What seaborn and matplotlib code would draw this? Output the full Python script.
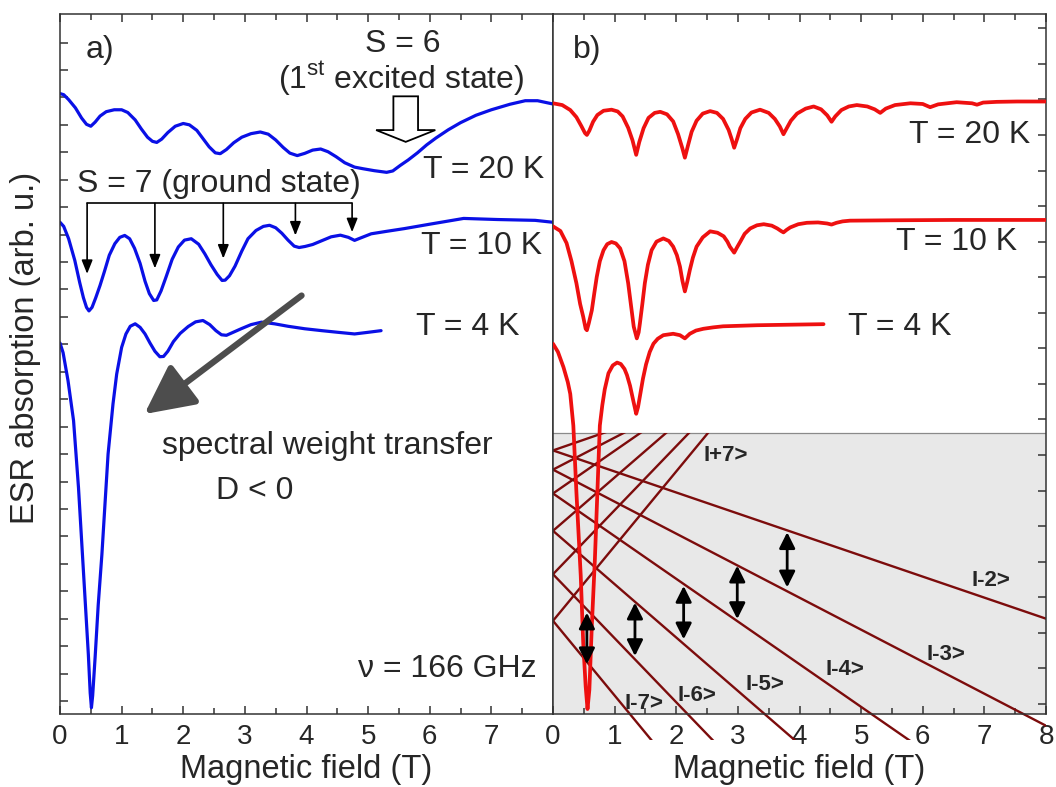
import matplotlib
matplotlib.use("Agg")
import numpy as np
import pandas as pd
import seaborn as sns
import matplotlib.pyplot as plt
from matplotlib.patches import Rectangle, FancyArrow
from matplotlib.ticker import MultipleLocator

# ---------------- data ----------------
# panel a) measured spectra, x = field (T), y = offset absorption (arb. u.)
field_a20 = [0.00, 0.06, 0.14, 0.25, 0.35, 0.43, 0.50, 0.57, 0.65, 0.75, 0.88, 1.00, 1.10,
             1.22, 1.32, 1.42, 1.50, 1.57, 1.65, 1.75, 1.87, 2.00, 2.10, 2.22, 2.32, 2.42,
             2.52, 2.60, 2.70, 2.82, 2.95, 3.10, 3.25, 3.38, 3.50, 3.62, 3.73, 3.85, 3.97,
             4.10, 4.23, 4.35, 4.48, 4.62, 4.78, 4.92, 5.10, 5.30, 5.40, 5.52, 5.65, 5.80,
             5.95, 6.10, 6.30, 6.50, 6.75, 7.00, 7.30, 7.55, 7.75, 8.00]
esr_a20 = [22.14, 22.10, 21.92, 21.62, 21.25, 21.02, 20.95, 21.10, 21.32, 21.48, 21.55, 21.55,
           21.45, 21.18, 20.85, 20.55, 20.40, 20.36, 20.48, 20.72, 20.95, 21.05, 21.00, 20.80,
           20.50, 20.20, 19.98, 19.95, 20.10, 20.35, 20.55, 20.68, 20.74, 20.66, 20.45, 20.18,
           19.97, 19.88, 19.96, 20.08, 20.12, 20.02, 19.84, 19.62, 19.46, 19.40, 19.33, 19.27,
           19.32, 19.52, 19.72, 19.98, 20.27, 20.52, 20.82, 21.08, 21.35, 21.55, 21.75, 21.88,
           21.88, 21.76]

field_a10 = [0.00, 0.06, 0.14, 0.24, 0.32, 0.38, 0.43, 0.47, 0.52, 0.58, 0.65, 0.72, 0.80,
             0.89, 0.97, 1.05, 1.13, 1.21, 1.30, 1.38, 1.45, 1.52, 1.57, 1.64, 1.72, 1.82,
             1.92, 2.02, 2.13, 2.25, 2.35, 2.45, 2.55, 2.63, 2.68, 2.75, 2.84, 2.95, 3.05,
             3.18, 3.30, 3.40, 3.50, 3.60, 3.70, 3.80, 3.88, 3.98, 4.10, 4.25, 4.40, 4.55,
             4.68, 4.78, 4.88, 5.05, 5.30, 5.59, 6.00, 6.55, 7.10, 7.71, 8.00]
esr_a10 = [17.45, 17.30, 16.85, 16.06, 15.25, 14.70, 14.35, 14.22, 14.35, 14.70, 15.15, 15.65,
           16.25, 16.67, 16.90, 16.97, 16.85, 16.50, 15.95, 15.30, 14.85, 14.60, 14.62, 14.95,
           15.45, 16.10, 16.55, 16.80, 16.85, 16.65, 16.30, 15.90, 15.55, 15.33, 15.34, 15.50,
           15.85, 16.40, 16.85, 17.15, 17.30, 17.34, 17.25, 17.05, 16.80, 16.58, 16.53, 16.57,
           16.64, 16.78, 16.92, 16.98, 16.90, 16.79, 16.88, 17.03, 17.12, 17.22, 17.38, 17.59,
           17.55, 17.52, 17.45]

field_a4 = [0.00, 0.05, 0.13, 0.22, 0.30, 0.38, 0.46, 0.49, 0.51, 0.53, 0.57, 0.62, 0.68,
            0.73, 0.78, 0.86, 0.92, 1.00, 1.07, 1.14, 1.22, 1.30, 1.38, 1.46, 1.54, 1.62,
            1.68, 1.75, 1.84, 1.95, 2.08, 2.20, 2.32, 2.43, 2.53, 2.62, 2.70, 2.80, 2.94,
            3.10, 3.27, 3.48, 3.70, 3.97, 4.25, 4.51, 4.78, 5.00, 5.21]
esr_a4 = [13.05, 12.70, 11.68, 10.22, 7.78, 4.74, 1.70, 0.30, -0.24, 0.20, 1.60, 3.50, 5.35,
          7.18, 9.00, 10.83, 11.92, 12.89, 13.38, 13.66, 13.75, 13.62, 13.38, 13.05, 12.75,
          12.55, 12.56, 12.75, 13.10, 13.40, 13.65, 13.82, 13.87, 13.72, 13.50, 13.35, 13.33,
          13.43, 13.57, 13.72, 13.81, 13.75, 13.66, 13.57, 13.50, 13.44, 13.38, 13.44, 13.50]

# panel b) simulated spectra
field_b20 = [0.00, 0.15, 0.28, 0.38, 0.46, 0.52, 0.55, 0.59, 0.65, 0.72, 0.82, 0.95, 1.05,
             1.13, 1.22, 1.29, 1.35, 1.40, 1.47, 1.55, 1.65, 1.74, 1.85, 1.95, 2.03, 2.10,
             2.14, 2.19, 2.25, 2.33, 2.43, 2.55, 2.66, 2.76, 2.85, 2.90, 2.94, 2.99, 3.04,
             3.12, 3.22, 3.36, 3.50, 3.60, 3.68, 3.74, 3.79, 3.86, 3.96, 4.10, 4.23, 4.35,
             4.45, 4.52, 4.58, 4.68, 4.80, 4.93, 5.10, 5.22, 5.31, 5.40, 5.55, 5.80, 6.00,
             6.12, 6.25, 6.55, 6.80, 6.88, 6.98, 7.20, 7.53, 8.00]
esr_b20 = [16.89, 16.84, 16.70, 16.50, 16.25, 16.05, 16.00, 16.12, 16.37, 16.56, 16.68, 16.71,
           16.66, 16.52, 16.20, 15.85, 15.44, 15.80, 16.19, 16.48, 16.62, 16.65, 16.58, 16.38,
           16.02, 15.62, 15.36, 15.70, 16.09, 16.40, 16.60, 16.67, 16.62, 16.45, 16.14, 15.88,
           15.64, 15.90, 16.19, 16.45, 16.63, 16.71, 16.62, 16.45, 16.24, 16.02, 16.18, 16.40,
           16.60, 16.74, 16.80, 16.72, 16.55, 16.37, 16.52, 16.70, 16.80, 16.84, 16.80, 16.72,
           16.62, 16.74, 16.84, 16.89, 16.87, 16.78, 16.86, 16.92, 16.89, 16.85, 16.91, 16.93,
           16.94, 16.94]

field_b10 = [0.00, 0.12, 0.22, 0.30, 0.38, 0.44, 0.49, 0.53, 0.55, 0.58, 0.63, 0.67, 0.71,
             0.76, 0.82, 0.88, 0.95, 1.02, 1.09, 1.16, 1.22, 1.27, 1.31, 1.36, 1.39, 1.41,
             1.45, 1.49, 1.54, 1.60, 1.68, 1.79, 1.88, 1.95, 2.01, 2.06, 2.10, 2.14, 2.18,
             2.22, 2.27, 2.33, 2.43, 2.55, 2.67, 2.77, 2.83, 2.87, 2.94, 2.99, 3.04, 3.11,
             3.20, 3.31, 3.42, 3.55, 3.64, 3.70, 3.74, 3.79, 3.85, 3.98, 4.12, 4.30, 4.45,
             4.52, 4.60, 4.70, 4.82, 5.50, 6.50, 8.00]
esr_b10 = [13.43, 13.30, 12.96, 12.45, 11.83, 11.25, 10.89, 10.55, 10.51, 10.70, 11.07, 11.55,
           12.01, 12.45, 12.76, 12.93, 12.99, 12.95, 12.81, 12.45, 11.83, 11.15, 10.61, 10.28,
           10.45, 10.70, 11.25, 11.83, 12.35, 12.76, 13.00, 13.09, 13.02, 12.86, 12.62, 12.30,
           11.90, 11.60, 11.88, 12.20, 12.55, 12.86, 13.12, 13.29, 13.25, 13.15, 13.00, 12.86,
           12.69, 12.85, 13.00, 13.22, 13.37, 13.46, 13.49, 13.45, 13.37, 13.30, 13.26, 13.33,
           13.40, 13.49, 13.53, 13.54, 13.51, 13.48, 13.53, 13.57, 13.59, 13.60, 13.61, 13.61]

field_b4 = [0.00, 0.08, 0.17, 0.24, 0.28, 0.33, 0.38, 0.45, 0.49, 0.53, 0.56, 0.59, 0.63,
            0.68, 0.72, 0.76, 0.80, 0.84, 0.90, 0.97, 1.04, 1.10, 1.16, 1.20, 1.25, 1.30,
            1.35, 1.38, 1.42, 1.46, 1.51, 1.57, 1.63, 1.70, 1.79, 1.95, 2.06, 2.14, 2.22,
            2.32, 2.44, 2.60, 2.76, 3.31, 4.39]
esr_b4 = [10.13, 9.90, 9.47, 9.05, 8.72, 7.83, 5.95, 3.61, 1.73, 0.50, -0.14, 0.40, 2.20,
          4.08, 5.95, 7.83, 8.40, 8.85, 9.30, 9.52, 9.60, 9.56, 9.42, 9.25, 8.95, 8.55, 8.16,
          8.35, 8.75, 9.15, 9.55, 9.90, 10.13, 10.27, 10.37, 10.41, 10.37, 10.28, 10.41, 10.50,
          10.55, 10.59, 10.62, 10.65, 10.68]

# S = 7 ground-state transitions marked in panel a)
s7_fields = [0.44, 1.54, 2.65, 3.82, 4.74]
s7_tips = [15.57, 15.77, 16.13, 16.97, 17.09]

# Zeeman levels of the inset (energy, arb. u.) at B = 0 and B = 8 T
level_m = [2, 3, 4, 5, 6, 7]
level_zero = [7.13, 6.59, 5.92, 4.87, 3.65, 2.34]
level_minus_end = [2.40, -0.61, -3.68, -7.13, -10.75, -14.46]
level_plus_end = [11.93, 13.79, 15.52, 16.87, 18.05, 19.14]
level_labels = ["I-2>", "I-3>", "I-4>", "I-5>", "I-6>", "I-7>", "I+7>"]
label_field = [6.79, 6.06, 4.42, 3.12, 2.02, 1.16, 2.44]
label_energy = [3.46, 1.40, 0.98, 0.55, 0.25, 0.01, 6.99]

# transitions drawn as double arrows
trans_field = [0.55, 1.33, 2.12, 2.99, 3.80]
trans_low = [1.12, 1.35, 1.82, 2.39, 3.28]
trans_high = [2.57, 2.85, 3.32, 3.89, 4.83]

inset_top = 7.61

# ---------------- style ----------------
sns.set_style("ticks")
plt.rcParams["font.family"] = ["Liberation Sans", "DejaVu Sans"]
plt.rcParams["mathtext.fontset"] = "custom"
plt.rcParams["mathtext.rm"] = "Liberation Sans"

BLUE = "#0a10e6"
RED = "#ee1010"
DARKRED = "#7c0c0c"
FS = 23

fig = plt.figure(figsize=(10.56, 7.87), dpi=100)
axL = fig.add_axes([60 / 1056, 73 / 787, 493 / 1056, 700 / 787])
axR = fig.add_axes([553 / 1056, 73 / 787, 493 / 1056, 700 / 787])

for ax in (axL, axR):
    ax.set_xlim(0, 8)
    ax.xaxis.set_minor_locator(MultipleLocator(0.5))
    ax.tick_params(axis="x", which="both", direction="in", top=True, bottom=True,
                   labelsize=20, pad=7, width=1.1, color="#333333")
    ax.tick_params(axis="x", which="major", length=6)
    ax.tick_params(axis="x", which="minor", length=4)
    for s in ax.spines.values():
        s.set_linewidth(1.1)
        s.set_color("#333333")
    ax.set_xlabel("Magnetic field (T)", fontsize=23.5, labelpad=3)

# ---------------- panel a ----------------
axL.set_ylim(-0.47, 25.04)
axL.set_xticks(range(0, 8))
axL.set_yticks(range(0, 25))
axL.tick_params(axis="y", direction="in", left=True, right=False, labelleft=False,
                length=6, width=1.1, color="#333333")
axL.set_ylabel("ESR absorption (arb. u.)", fontsize=23.5)
axL.yaxis.set_label_coords(-0.038, 0.523)

for fx, fy in [(field_a20, esr_a20), (field_a10, esr_a10), (field_a4, esr_a4)]:
    sns.lineplot(x=fx, y=fy, ax=axL, color=BLUE, lw=2.3, sort=False, estimator=None)

axL.text(0.42, 23.72, "a)", fontsize=FS, ha="left", va="center")
axL.text(5.56, 23.95, "S = 6", fontsize=FS, ha="center", va="center")
axL.text(5.54, 22.66, r"(1$^{\mathregular{st}}$ excited state)", fontsize=FS,
         ha="center", va="center")
axL.add_patch(FancyArrow(5.61, 22.04, 0, -1.66, width=0.4, head_width=0.96,
                         head_length=0.43, length_includes_head=True,
                         fc="white", ec="black", lw=1.3, zorder=5))
axL.text(7.86, 19.34, "T = 20 K", fontsize=FS, ha="right", va="center")
axL.text(0.27, 18.86, "S = 7 (ground state)", fontsize=FS, ha="left", va="center")
axL.plot([s7_fields[0], s7_fields[-1]], [18.14, 18.14], color="black", lw=1.2)
for bx, tip in zip(s7_fields, s7_tips):
    axL.annotate("", xy=(bx, tip), xytext=(bx, 18.14),
                 arrowprops=dict(arrowstyle="-|>,head_length=0.55,head_width=0.22",
                                 mutation_scale=15, lw=1.2, color="black",
                                 shrinkA=0, shrinkB=0))
axL.text(7.83, 16.60, "T = 10 K", fontsize=FS, ha="right", va="center")
axL.text(5.77, 13.62, "T = 4 K", fontsize=FS, ha="left", va="center")
axL.annotate("", xy=(1.37, 10.46), xytext=(3.92, 14.78),
             arrowprops=dict(arrowstyle="-|>,head_length=0.5,head_width=0.25",
                             mutation_scale=60, lw=4.5, color="#4d4d4d",
                             shrinkA=0, shrinkB=0), zorder=6)
axL.text(1.66, 9.31, "spectral weight transfer", fontsize=FS, ha="left", va="center")
axL.text(2.53, 7.66, "D < 0", fontsize=FS, ha="left", va="center")
axL.text(7.73, 1.17, "ν = 166 GHz", fontsize=FS, ha="right", va="center")

# ---------------- panel b ----------------
axR.set_ylim(-0.28, 19.4)
axR.set_xticks(range(0, 9))
axR.set_yticks(range(0, 20))
axR.yaxis.tick_right()
axR.tick_params(axis="y", direction="in", left=False, right=True, labelright=False,
                labelleft=False, length=6, width=1.1, color="#333333")
axR.set_ylabel("")

rect = Rectangle((0, -1), 8, inset_top + 1, facecolor="#e8e8e8", edgecolor="none", zorder=0.5)
axR.add_patch(rect)
axR.plot([0, 8], [inset_top, inset_top], color="#8a8a8a", lw=0.9, zorder=0.8)
for y0, ym, yp in zip(level_zero, level_minus_end, level_plus_end):
    for yend in (ym, yp):
        ln, = axR.plot([0, 8], [y0, yend], color=DARKRED, lw=1.7, zorder=1)
        ln.set_clip_path(rect)

for fx, fy in [(field_b20, esr_b20), (field_b10, esr_b10), (field_b4, esr_b4)]:
    sns.lineplot(x=fx, y=fy, ax=axR, color=RED, lw=2.7, sort=False, estimator=None, zorder=3)

for bx, lo, hi in zip(trans_field, trans_low, trans_high):
    axR.annotate("", xy=(bx, lo), xytext=(bx, hi),
                 arrowprops=dict(arrowstyle="<|-|>,head_length=0.6,head_width=0.3",
                                 mutation_scale=16, lw=2.0, color="black",
                                 shrinkA=0, shrinkB=0), zorder=4)
for name, lx, ly in zip(level_labels, label_field, label_energy):
    axR.text(lx, ly, name, fontsize=16, fontweight="bold", ha="left", va="center", zorder=5)

axR.text(0.32, 18.39, "b)", fontsize=FS, ha="left", va="center")
axR.text(7.74, 16.0, "T = 20 K", fontsize=FS, ha="right", va="center")
axR.text(7.53, 12.99, "T = 10 K", fontsize=FS, ha="right", va="center")
axR.text(4.79, 10.6, "T = 4 K", fontsize=FS, ha="left", va="center")

fig.savefig("out.png", dpi=100)
